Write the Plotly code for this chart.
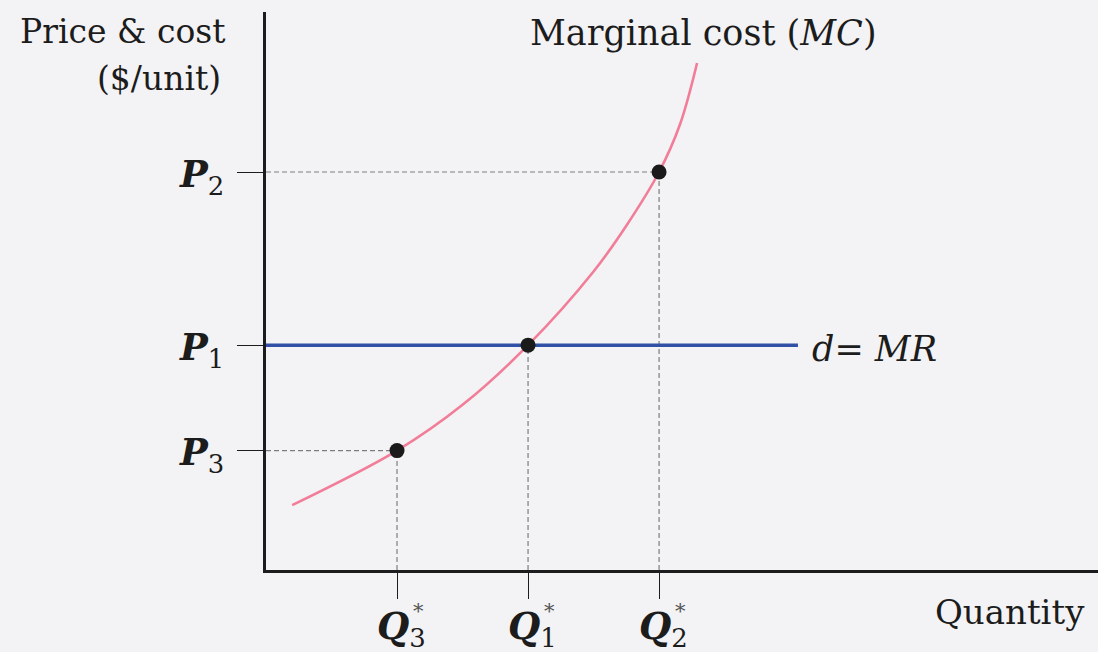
import plotly.graph_objects as go

# Profit-maximising output for a price taker at three price levels
quantity_labels = ["3", "1", "2"]          # subscripts of Q*
quantities = [1.0, 2.0, 3.0]               # Q*3, Q*1, Q*2
price_labels = ["3", "1", "2"]             # subscripts of P
prices = [3.0, 5.65, 10.0]                 # P3, P1, P2

# Marginal cost curve sample points
mc_q = [0.2, 1.0, 1.5, 2.0, 2.5, 2.75, 3.0, 3.16, 3.29]
mc_p = [1.63, 3.0, 4.15, 5.65, 7.5, 8.65, 10.0, 11.2, 12.74]

# Demand = marginal revenue line at P1
dmr_q = [0.0, 4.06]
dmr_p = [5.65, 5.65]

X_MAX = 6.35
Y_MAX = 14.02

FONT = "DejaVu Serif"
INK = "#1c1c1c"
BG = "#f3f3f5"

fig = go.Figure()

dash_style = dict(color="#7e7e7e", width=1.2, dash="5px,3px")

# Guide lines from each point to the axes
for q, p, lab in zip(quantities, prices, price_labels):
    fig.add_trace(go.Scatter(x=[q, q], y=[0, p], mode="lines", line=dash_style,
                             hoverinfo="skip", showlegend=False))
    if lab != "1":
        fig.add_trace(go.Scatter(x=[0, q], y=[p, p], mode="lines", line=dash_style,
                                 hoverinfo="skip", showlegend=False))

# d = MR
fig.add_trace(go.Scatter(x=dmr_q, y=dmr_p, mode="lines",
                         line=dict(color="#3151a6", width=3.5),
                         hoverinfo="skip", showlegend=False))

# Marginal cost
fig.add_trace(go.Scatter(x=mc_q, y=mc_p, mode="lines",
                         line=dict(color="#f27d98", width=2.6, shape="spline", smoothing=1.0),
                         hoverinfo="skip", showlegend=False))

# Equilibrium points
fig.add_trace(go.Scatter(x=quantities, y=prices, mode="markers",
                         marker=dict(color="#1a1a1a", size=15),
                         hoverinfo="skip", showlegend=False))

annotations = []

def px_x(px):
    return (px - 266) / 832.0

def px_y(py):
    return (570 - py) / 558.0

# Axis titles and curve label
annotations.append(dict(text="Price & cost", x=px_x(227), y=px_y(31), xref="paper", yref="paper",
                        xanchor="right", yanchor="middle", showarrow=False,
                        font=dict(family=FONT, size=33, color=INK)))
annotations.append(dict(text="($/unit)", x=px_x(223), y=px_y(78), xref="paper", yref="paper",
                        xanchor="right", yanchor="middle", showarrow=False,
                        font=dict(family=FONT, size=33, color=INK)))
annotations.append(dict(text="Marginal cost (<i>MC</i>)", x=px_x(703), y=px_y(33),
                        xref="paper", yref="paper", xanchor="center", yanchor="middle",
                        showarrow=False, font=dict(family=FONT, size=35, color=INK)))
annotations.append(dict(text="Quantity", x=px_x(1087), y=px_y(612), xref="paper", yref="paper",
                        xanchor="right", yanchor="middle", showarrow=False,
                        font=dict(family=FONT, size=34, color=INK)))
annotations.append(dict(text="<i>d</i>= <i>MR</i>", x=dmr_q[1], y=dmr_p[1], xref="x", yref="y",
                        xanchor="left", yanchor="middle", xshift=12, yshift=-4,
                        showarrow=False, font=dict(family=FONT, size=35, color=INK)))

# Price tick labels
for p, lab in zip(prices, price_labels):
    annotations.append(dict(text="<b><i>P</i></b><sub>%s</sub>" % lab, x=0, y=p,
                            xref="x", yref="y", xanchor="right", yanchor="middle",
                            xshift=-40, yshift=-4, showarrow=False,
                            font=dict(family=FONT, size=37, color=INK)))

# Quantity tick labels: Q with stacked * and subscript
for q, lab in zip(quantities, quantity_labels):
    annotations.append(dict(text="<b><i>Q</i></b><sub>%s</sub>" % lab, x=q, y=px_y(628),
                            xref="x", yref="paper", xanchor="center", yanchor="middle",
                            xshift=4, showarrow=False, font=dict(family=FONT, size=37, color=INK)))
    annotations.append(dict(text="*", x=q, y=px_y(611), xref="x", yref="paper",
                            xanchor="left", yanchor="middle", xshift=14,
                            showarrow=False, font=dict(family=FONT, size=21, color="#555")))

fig.update_layout(
    width=1098, height=652,
    margin=dict(l=266, r=0, t=12, b=82),
    paper_bgcolor=BG, plot_bgcolor=BG,
    annotations=annotations,
    xaxis=dict(range=[0, X_MAX], showgrid=False, zeroline=False,
               showline=True, linecolor=INK, linewidth=2.5,
               ticks="outside", ticklen=26, tickwidth=1.3, tickcolor=INK,
               tickvals=quantities, showticklabels=False, fixedrange=True),
    yaxis=dict(range=[0, Y_MAX], showgrid=False, zeroline=False,
               showline=True, linecolor=INK, linewidth=2.5,
               ticks="outside", ticklen=26, tickwidth=1.3, tickcolor=INK,
               tickvals=prices, showticklabels=False, fixedrange=True),
)

fig.write_html("out.html", config={"displayModeBar": False})
